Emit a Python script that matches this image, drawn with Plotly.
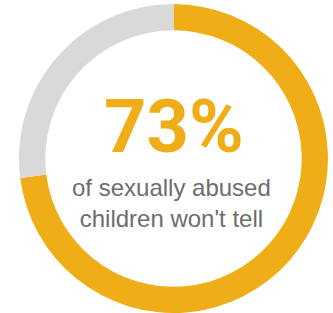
import plotly.graph_objects as go

labels = ["Won't tell", "Will tell"]
values = [73, 27]
colors = ["#EFAE17", "#D9D9D9"]
headline = "73%"
subtitle = "of sexually abused<br>children won't tell"

fig = go.Figure(go.Pie(
    labels=labels,
    values=values,
    hole=0.83,
    sort=False,
    direction="clockwise",
    rotation=0,
    marker=dict(colors=colors, line=dict(width=0)),
    textinfo="none",
    hoverinfo="label+percent",
    showlegend=False,
    domain=dict(x=[0.054, 0.988], y=[0.0, 0.987]),
))

fig.add_annotation(
    text=f"<b>{headline}</b>", x=0.523, y=0.595, xref="paper", yref="paper",
    xanchor="center", yanchor="middle", showarrow=False,
    font=dict(family="Roboto", size=74, color="#EFAE17"),
)
fig.add_annotation(
    text=subtitle, x=0.516, y=0.351, xref="paper", yref="paper",
    xanchor="center", yanchor="middle", showarrow=False,
    font=dict(family="Liberation Sans, Arial", size=24, color="#6D6D6D"),
)

fig.update_layout(
    width=333, height=313,
    margin=dict(l=0, r=0, t=0, b=0),
    paper_bgcolor="white", plot_bgcolor="white",
)

fig.write_html(
    "out.html",
    config={"displayModeBar": False},
    post_script="document.body.style.margin='0px';",
)
